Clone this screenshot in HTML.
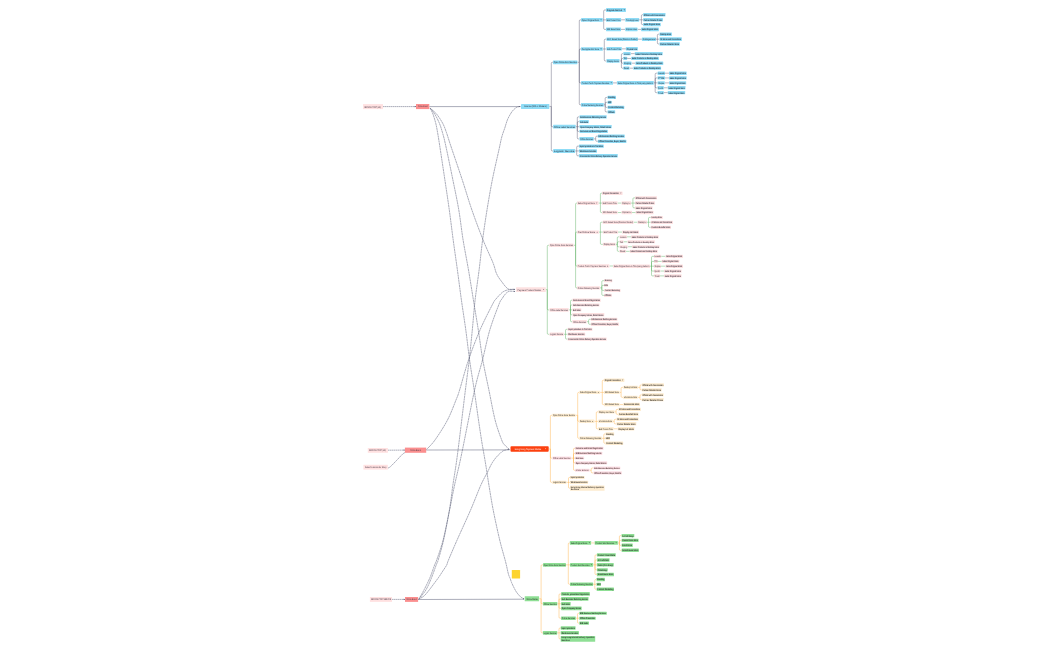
<!DOCTYPE html>
<html><head><meta charset="utf-8"><title>Mind Map</title>
<style>html,body{margin:0;padding:0;background:#fff;width:1050px;height:650px;overflow:hidden}svg{display:block;will-change:transform}</style>
</head><body>
<svg width="1050" height="650" viewBox="0 0 1050 650">
<g fill="none" stroke-width="0.55" stroke-linecap="butt" stroke-opacity="0.68">
<path d="M549.30 106.45H551.30" stroke="#3c3c5a"/>
<path d="M551.30 106.45V63.30Q551.30 62.30 552.30 62.30H553.00" stroke="#3c3c5a"/>
<path d="M551.30 106.45V125.70Q551.30 126.70 552.30 126.70H553.10" stroke="#3c3c5a"/>
<path d="M551.30 106.45V149.95Q551.30 150.95 552.30 150.95H553.10" stroke="#3c3c5a"/>
<path d="M577.40 62.30H579.30" stroke="#3c3c5a"/>
<path d="M579.30 62.30V20.90Q579.30 19.90 580.30 19.90H581.00" stroke="#3c3c5a"/>
<path d="M579.30 62.30V50.00Q579.30 49.00 580.30 49.00H581.00" stroke="#3c3c5a"/>
<path d="M579.30 62.30V81.90Q579.30 82.90 580.30 82.90H581.00" stroke="#3c3c5a"/>
<path d="M579.30 62.30V103.80Q579.30 104.80 580.30 104.80H581.00" stroke="#3c3c5a"/>
<path d="M602.80 19.90H603.70" stroke="#3c3c5a"/>
<path d="M603.70 19.90V11.00Q603.70 10.00 604.70 10.00H606.00" stroke="#3c3c5a"/>
<path d="M603.70 19.90H606.00" stroke="#3c3c5a"/>
<path d="M603.70 19.90V28.40Q603.70 29.40 604.70 29.40H606.00" stroke="#3c3c5a"/>
<path d="M621.10 19.80H625.20" stroke="#3c3c5a"/>
<path d="M639.20 19.80H641.40" stroke="#3c3c5a"/>
<path d="M641.40 19.80V15.70Q641.40 14.70 642.40 14.70H643.10" stroke="#3c3c5a"/>
<path d="M641.40 19.80H643.10" stroke="#3c3c5a"/>
<path d="M641.40 19.80V23.55Q641.40 24.55 642.40 24.55H643.10" stroke="#3c3c5a"/>
<path d="M621.00 29.40H625.20" stroke="#3c3c5a"/>
<path d="M637.60 29.40H641.10" stroke="#3c3c5a"/>
<path d="M602.80 49.00H604.30" stroke="#3c3c5a"/>
<path d="M604.30 49.00V40.20Q604.30 39.20 605.30 39.20H606.50" stroke="#3c3c5a"/>
<path d="M604.30 49.00H606.50" stroke="#3c3c5a"/>
<path d="M604.30 49.00V59.95Q604.30 60.95 605.30 60.95H606.50" stroke="#3c3c5a"/>
<path d="M638.00 39.20H641.90" stroke="#3c3c5a"/>
<path d="M656.00 39.20H657.40" stroke="#3c3c5a"/>
<path d="M657.40 39.20V35.20Q657.40 34.20 658.40 34.20H659.50" stroke="#3c3c5a"/>
<path d="M657.40 39.20H659.50" stroke="#3c3c5a"/>
<path d="M657.40 39.20V42.95Q657.40 43.95 658.40 43.95H659.50" stroke="#3c3c5a"/>
<path d="M621.90 48.85H625.90" stroke="#3c3c5a"/>
<path d="M619.50 60.95H621.40" stroke="#3c3c5a"/>
<path d="M621.40 60.95V54.65Q621.40 53.65 622.40 53.65H623.30" stroke="#3c3c5a"/>
<path d="M621.40 60.95V59.45Q621.40 58.45 622.40 58.45H623.30" stroke="#3c3c5a"/>
<path d="M621.40 60.95V62.20Q621.40 63.20 622.40 63.20H623.30" stroke="#3c3c5a"/>
<path d="M621.40 60.95V67.20Q621.40 68.20 622.40 68.20H623.30" stroke="#3c3c5a"/>
<path d="M630.70 53.65H634.80" stroke="#3c3c5a"/>
<path d="M627.10 58.45H631.20" stroke="#3c3c5a"/>
<path d="M631.60 63.20H635.40" stroke="#3c3c5a"/>
<path d="M629.50 68.20H633.30" stroke="#3c3c5a"/>
<path d="M613.00 82.90H617.00" stroke="#3c3c5a"/>
<path d="M653.80 82.85H655.20" stroke="#3c3c5a"/>
<path d="M655.20 82.85V74.20Q655.20 73.20 656.20 73.20H657.60" stroke="#3c3c5a"/>
<path d="M655.20 82.85V78.95Q655.20 77.95 656.20 77.95H657.60" stroke="#3c3c5a"/>
<path d="M655.20 82.85H657.60" stroke="#3c3c5a"/>
<path d="M655.20 82.85V86.80Q655.20 87.80 656.20 87.80H657.60" stroke="#3c3c5a"/>
<path d="M655.20 82.85V91.65Q655.20 92.65 656.20 92.65H657.60" stroke="#3c3c5a"/>
<path d="M665.00 73.20H669.00" stroke="#3c3c5a"/>
<path d="M665.00 77.95H669.00" stroke="#3c3c5a"/>
<path d="M664.80 82.90H669.00" stroke="#3c3c5a"/>
<path d="M663.80 87.80H667.80" stroke="#3c3c5a"/>
<path d="M663.80 92.65H667.80" stroke="#3c3c5a"/>
<path d="M603.80 104.80H605.20" stroke="#3c3c5a"/>
<path d="M605.20 104.80V98.45Q605.20 97.45 606.20 97.45H607.60" stroke="#3c3c5a"/>
<path d="M605.20 104.80V103.35Q605.20 102.35 606.20 102.35H607.60" stroke="#3c3c5a"/>
<path d="M605.20 104.80V106.35Q605.20 107.35 606.20 107.35H607.60" stroke="#3c3c5a"/>
<path d="M605.20 104.80V110.90Q605.20 111.90 606.20 111.90H607.60" stroke="#3c3c5a"/>
<path d="M575.70 126.70H577.30" stroke="#3c3c5a"/>
<path d="M577.30 126.70V117.90Q577.30 116.90 578.30 116.90H579.50" stroke="#3c3c5a"/>
<path d="M577.30 126.70V122.65Q577.30 121.65 578.30 121.65H579.50" stroke="#3c3c5a"/>
<path d="M577.30 126.70H579.50" stroke="#3c3c5a"/>
<path d="M577.30 126.70V130.40Q577.30 131.40 578.30 131.40H579.50" stroke="#3c3c5a"/>
<path d="M577.30 126.70V137.90Q577.30 138.90 578.30 138.90H579.50" stroke="#3c3c5a"/>
<path d="M593.80 138.90H595.70" stroke="#3c3c5a"/>
<path d="M595.70 138.90V137.20Q595.70 136.20 596.70 136.20H597.80" stroke="#3c3c5a"/>
<path d="M595.70 138.90V140.30Q595.70 141.30 596.70 141.30H597.80" stroke="#3c3c5a"/>
<path d="M575.20 150.95H576.70" stroke="#3c3c5a"/>
<path d="M576.70 150.95V147.15Q576.70 146.15 577.70 146.15H578.90" stroke="#3c3c5a"/>
<path d="M576.70 150.95H578.90" stroke="#3c3c5a"/>
<path d="M576.70 150.95V154.75Q576.70 155.75 577.70 155.75H578.90" stroke="#3c3c5a"/>
<path d="M545.80 289.60H547.30" stroke="#3ca041"/>
<path d="M547.30 289.60V246.30Q547.30 245.30 548.30 245.30H549.30" stroke="#3ca041"/>
<path d="M547.30 289.60V308.90Q547.30 309.90 548.30 309.90H549.50" stroke="#3ca041"/>
<path d="M547.30 289.60V333.30Q547.30 334.30 548.30 334.30H549.50" stroke="#3ca041"/>
<path d="M573.60 245.30H575.60" stroke="#3ca041"/>
<path d="M575.60 245.30V204.10Q575.60 203.10 576.60 203.10H577.10" stroke="#3ca041"/>
<path d="M575.60 245.30V233.10Q575.60 232.10 576.60 232.10H577.10" stroke="#3ca041"/>
<path d="M575.60 245.30V265.00Q575.60 266.00 576.60 266.00H577.10" stroke="#3ca041"/>
<path d="M575.60 245.30V286.90Q575.60 287.90 576.60 287.90H577.10" stroke="#3ca041"/>
<path d="M598.50 203.10H600.40" stroke="#3ca041"/>
<path d="M600.40 203.10V194.20Q600.40 193.20 601.40 193.20H602.10" stroke="#3ca041"/>
<path d="M600.40 203.10H602.10" stroke="#3ca041"/>
<path d="M600.40 203.10V211.55Q600.40 212.55 601.40 212.55H602.10" stroke="#3ca041"/>
<path d="M617.50 203.10H621.60" stroke="#3ca041"/>
<path d="M631.00 203.10H632.90" stroke="#3ca041"/>
<path d="M632.90 203.10V198.85Q632.90 197.85 633.90 197.85H635.00" stroke="#3ca041"/>
<path d="M632.90 203.10H635.00" stroke="#3ca041"/>
<path d="M632.90 203.10V206.85Q632.90 207.85 633.90 207.85H635.00" stroke="#3ca041"/>
<path d="M617.50 212.55H621.60" stroke="#3ca041"/>
<path d="M632.00 212.55H635.70" stroke="#3ca041"/>
<path d="M598.90 232.10H600.40" stroke="#3ca041"/>
<path d="M600.40 232.10V223.25Q600.40 222.25 601.40 222.25H602.70" stroke="#3ca041"/>
<path d="M600.40 232.10H602.90" stroke="#3ca041"/>
<path d="M600.40 232.10V243.35Q600.40 244.35 601.40 244.35H602.90" stroke="#3ca041"/>
<path d="M633.60 222.25H637.50" stroke="#3ca041"/>
<path d="M647.00 222.25H648.50" stroke="#3ca041"/>
<path d="M648.50 222.25V218.40Q648.50 217.40 649.50 217.40H650.80" stroke="#3ca041"/>
<path d="M648.50 222.25H650.80" stroke="#3ca041"/>
<path d="M648.50 222.25V226.30Q648.50 227.30 649.50 227.30H650.80" stroke="#3ca041"/>
<path d="M618.00 232.10H622.20" stroke="#3ca041"/>
<path d="M615.60 244.35H617.30" stroke="#3ca041"/>
<path d="M617.30 244.35V237.85Q617.30 236.85 618.30 236.85H619.50" stroke="#3ca041"/>
<path d="M617.30 244.35V242.80Q617.30 241.80 618.30 241.80H619.50" stroke="#3ca041"/>
<path d="M617.30 244.35V245.75Q617.30 246.75 618.30 246.75H619.50" stroke="#3ca041"/>
<path d="M617.30 244.35V250.35Q617.30 251.35 618.30 251.35H619.50" stroke="#3ca041"/>
<path d="M627.00 236.85H631.00" stroke="#3ca041"/>
<path d="M623.50 241.80H627.50" stroke="#3ca041"/>
<path d="M627.70 246.75H632.00" stroke="#3ca041"/>
<path d="M625.80 251.35H629.80" stroke="#3ca041"/>
<path d="M609.40 266.00H613.00" stroke="#3ca041"/>
<path d="M650.00 266.20H651.50" stroke="#3ca041"/>
<path d="M651.50 266.20V257.35Q651.50 256.35 652.50 256.35H654.00" stroke="#3ca041"/>
<path d="M651.50 266.20V262.40Q651.50 261.40 652.50 261.40H654.00" stroke="#3ca041"/>
<path d="M651.50 266.20H654.00" stroke="#3ca041"/>
<path d="M651.50 266.20V270.05Q651.50 271.05 652.50 271.05H654.00" stroke="#3ca041"/>
<path d="M651.50 266.20V274.90Q651.50 275.90 652.50 275.90H654.00" stroke="#3ca041"/>
<path d="M661.20 256.35H665.50" stroke="#3ca041"/>
<path d="M657.80 261.40H661.80" stroke="#3ca041"/>
<path d="M661.00 266.20H665.50" stroke="#3ca041"/>
<path d="M660.30 271.05H664.10" stroke="#3ca041"/>
<path d="M659.90 275.90H664.10" stroke="#3ca041"/>
<path d="M600.00 287.90H601.80" stroke="#3ca041"/>
<path d="M601.80 287.90V281.70Q601.80 280.70 602.80 280.70H604.00" stroke="#3ca041"/>
<path d="M601.80 287.90V286.35Q601.80 285.35 602.80 285.35H604.00" stroke="#3ca041"/>
<path d="M601.80 287.90V289.40Q601.80 290.40 602.80 290.40H604.00" stroke="#3ca041"/>
<path d="M601.80 287.90V294.35Q601.80 295.35 602.80 295.35H604.00" stroke="#3ca041"/>
<path d="M568.60 309.90H570.50" stroke="#3ca041"/>
<path d="M570.50 309.90V301.25Q570.50 300.25 571.50 300.25H572.40" stroke="#3ca041"/>
<path d="M570.50 309.90V306.00Q570.50 305.00 571.50 305.00H572.40" stroke="#3ca041"/>
<path d="M570.50 309.90H572.40" stroke="#3ca041"/>
<path d="M570.50 309.90V313.75Q570.50 314.75 571.50 314.75H572.40" stroke="#3ca041"/>
<path d="M570.50 309.90V320.70Q570.50 321.70 571.50 321.70H572.40" stroke="#3ca041"/>
<path d="M586.70 321.70H588.60" stroke="#3ca041"/>
<path d="M588.60 321.70V320.30Q588.60 319.30 589.60 319.30H590.80" stroke="#3ca041"/>
<path d="M588.60 321.70V323.30Q588.60 324.30 589.60 324.30H590.80" stroke="#3ca041"/>
<path d="M563.80 334.30H565.50" stroke="#3ca041"/>
<path d="M565.50 334.30V330.35Q565.50 329.35 566.50 329.35H567.60" stroke="#3ca041"/>
<path d="M565.50 334.30H567.60" stroke="#3ca041"/>
<path d="M565.50 334.30V338.05Q565.50 339.05 566.50 339.05H567.60" stroke="#3ca041"/>
<path d="M548.70 448.95H550.40" stroke="#ffa424"/>
<path d="M550.40 448.95V416.30Q550.40 415.30 551.40 415.30H552.20" stroke="#ffa424"/>
<path d="M550.40 448.95V457.15Q550.40 458.15 551.40 458.15H552.30" stroke="#ffa424"/>
<path d="M550.40 448.95V481.35Q550.40 482.35 551.40 482.35H552.30" stroke="#ffa424"/>
<path d="M575.50 415.30H577.70" stroke="#ffa424"/>
<path d="M577.70 415.30V393.40Q577.70 392.40 578.70 392.40H579.20" stroke="#ffa424"/>
<path d="M577.70 415.30V420.35Q577.70 421.35 578.70 421.35H579.20" stroke="#ffa424"/>
<path d="M577.70 415.30V437.30Q577.70 438.30 578.70 438.30H579.20" stroke="#ffa424"/>
<path d="M600.10 392.40H602.30" stroke="#ffa424"/>
<path d="M602.30 392.40V381.20Q602.30 380.20 603.30 380.20H604.00" stroke="#ffa424"/>
<path d="M602.30 392.40H604.00" stroke="#ffa424"/>
<path d="M602.30 392.40V403.60Q602.30 404.60 603.30 404.60H604.00" stroke="#ffa424"/>
<path d="M619.60 392.40H621.10" stroke="#ffa424"/>
<path d="M621.10 392.40V388.35Q621.10 387.35 622.10 387.35H623.30" stroke="#ffa424"/>
<path d="M621.10 392.40V396.35Q621.10 397.35 622.10 397.35H623.30" stroke="#ffa424"/>
<path d="M638.00 387.35H640.00" stroke="#ffa424"/>
<path d="M640.00 387.35V385.90Q640.00 384.90 641.00 384.90H641.70" stroke="#ffa424"/>
<path d="M640.00 387.35V388.85Q640.00 389.85 641.00 389.85H641.70" stroke="#ffa424"/>
<path d="M637.70 397.35H640.00" stroke="#ffa424"/>
<path d="M640.00 397.35V395.75Q640.00 394.75 641.00 394.75H641.70" stroke="#ffa424"/>
<path d="M640.00 397.35V398.70Q640.00 399.70 641.00 399.70H641.70" stroke="#ffa424"/>
<path d="M619.60 404.60H623.30" stroke="#ffa424"/>
<path d="M594.40 421.35H596.30" stroke="#ffa424"/>
<path d="M596.30 421.35V412.85Q596.30 411.85 597.30 411.85H598.20" stroke="#ffa424"/>
<path d="M596.30 421.35H598.20" stroke="#ffa424"/>
<path d="M596.30 421.35V427.80Q596.30 428.80 597.30 428.80H598.20" stroke="#ffa424"/>
<path d="M614.60 411.85H616.10" stroke="#ffa424"/>
<path d="M616.10 411.85V410.40Q616.10 409.40 617.10 409.40H618.30" stroke="#ffa424"/>
<path d="M616.10 411.85V413.30Q616.10 414.30 617.10 414.30H618.30" stroke="#ffa424"/>
<path d="M612.70 421.35H614.20" stroke="#ffa424"/>
<path d="M614.20 421.35V420.30Q614.20 419.30 615.20 419.30H616.50" stroke="#ffa424"/>
<path d="M614.20 421.35V422.85Q614.20 423.85 615.20 423.85H616.50" stroke="#ffa424"/>
<path d="M613.50 428.80H617.70" stroke="#ffa424"/>
<path d="M602.00 438.30H603.80" stroke="#ffa424"/>
<path d="M603.80 438.30V434.90Q603.80 433.90 604.80 433.90H605.50" stroke="#ffa424"/>
<path d="M603.80 438.30H605.50" stroke="#ffa424"/>
<path d="M603.80 438.30V442.30Q603.80 443.30 604.80 443.30H605.50" stroke="#ffa424"/>
<path d="M571.20 458.15H573.50" stroke="#ffa424"/>
<path d="M573.50 458.15V449.35Q573.50 448.35 574.50 448.35H575.00" stroke="#ffa424"/>
<path d="M573.50 458.15V454.35Q573.50 453.35 574.50 453.35H575.00" stroke="#ffa424"/>
<path d="M573.50 458.15H575.00" stroke="#ffa424"/>
<path d="M573.50 458.15V461.85Q573.50 462.85 574.50 462.85H575.00" stroke="#ffa424"/>
<path d="M573.50 458.15V469.30Q573.50 470.30 574.50 470.30H575.00" stroke="#ffa424"/>
<path d="M589.50 470.30H591.20" stroke="#ffa424"/>
<path d="M591.20 470.30V469.00Q591.20 468.00 592.20 468.00H593.50" stroke="#ffa424"/>
<path d="M591.20 470.30V471.85Q591.20 472.85 592.20 472.85H593.50" stroke="#ffa424"/>
<path d="M566.40 482.35H568.50" stroke="#ffa424"/>
<path d="M568.50 482.35V478.45Q568.50 477.45 569.50 477.45H570.00" stroke="#ffa424"/>
<path d="M568.50 482.35H570.00" stroke="#ffa424"/>
<path d="M568.50 482.35V487.15Q568.50 488.15 569.50 488.15H570.00" stroke="#ffa424"/>
<path d="M539.10 598.75H541.10" stroke="#ffa424"/>
<path d="M541.10 598.75V565.85Q541.10 564.85 542.10 564.85H543.00" stroke="#ffa424"/>
<path d="M541.10 598.75V602.80Q541.10 603.80 542.10 603.80H542.90" stroke="#ffa424"/>
<path d="M541.10 598.75V631.85Q541.10 632.85 542.10 632.85H542.90" stroke="#ffa424"/>
<path d="M566.00 564.85H568.30" stroke="#ffa424"/>
<path d="M568.30 564.85V543.95Q568.30 542.95 569.30 542.95H569.90" stroke="#ffa424"/>
<path d="M568.30 564.85H570.00" stroke="#ffa424"/>
<path d="M568.30 564.85V583.25Q568.30 584.25 569.30 584.25H570.00" stroke="#ffa424"/>
<path d="M591.10 542.95H594.70" stroke="#ffa424"/>
<path d="M617.90 542.95H619.40" stroke="#ffa424"/>
<path d="M619.40 542.95V536.65Q619.40 535.65 620.40 535.65H621.60" stroke="#ffa424"/>
<path d="M619.40 542.95V541.40Q619.40 540.40 620.40 540.40H621.60" stroke="#ffa424"/>
<path d="M619.40 542.95V544.30Q619.40 545.30 620.40 545.30H621.60" stroke="#ffa424"/>
<path d="M619.40 542.95V549.30Q619.40 550.30 620.40 550.30H621.60" stroke="#ffa424"/>
<path d="M593.10 564.85H595.00" stroke="#ffa424"/>
<path d="M595.00 564.85V555.90Q595.00 554.90 596.00 554.90H596.90" stroke="#ffa424"/>
<path d="M595.00 564.85V560.95Q595.00 559.95 596.00 559.95H596.90" stroke="#ffa424"/>
<path d="M595.00 564.85H596.90" stroke="#ffa424"/>
<path d="M595.00 564.85V568.85Q595.00 569.85 596.00 569.85H596.90" stroke="#ffa424"/>
<path d="M595.00 564.85V573.55Q595.00 574.55 596.00 574.55H596.90" stroke="#ffa424"/>
<path d="M593.10 584.25H594.80" stroke="#ffa424"/>
<path d="M594.80 584.25V580.50Q594.80 579.50 595.80 579.50H596.60" stroke="#ffa424"/>
<path d="M594.80 584.25H596.60" stroke="#ffa424"/>
<path d="M594.80 584.25V588.30Q594.80 589.30 595.80 589.30H596.60" stroke="#ffa424"/>
<path d="M557.30 603.80H559.00" stroke="#ffa424"/>
<path d="M559.00 603.80V594.95Q559.00 593.95 560.00 593.95H561.10" stroke="#ffa424"/>
<path d="M559.00 603.80V599.90Q559.00 598.90 560.00 598.90H561.10" stroke="#ffa424"/>
<path d="M559.00 603.80H561.10" stroke="#ffa424"/>
<path d="M559.00 603.80V607.40Q559.00 608.40 560.00 608.40H561.10" stroke="#ffa424"/>
<path d="M559.00 603.80V617.20Q559.00 618.20 560.00 618.20H561.10" stroke="#ffa424"/>
<path d="M575.80 618.20H577.50" stroke="#ffa424"/>
<path d="M577.50 618.20V614.30Q577.50 613.30 578.50 613.30H579.20" stroke="#ffa424"/>
<path d="M577.50 618.20H579.20" stroke="#ffa424"/>
<path d="M577.50 618.20V622.10Q577.50 623.10 578.50 623.10H579.20" stroke="#ffa424"/>
<path d="M557.20 632.85H559.00" stroke="#ffa424"/>
<path d="M559.00 632.85V629.00Q559.00 628.00 560.00 628.00H560.70" stroke="#ffa424"/>
<path d="M559.00 632.85H560.70" stroke="#ffa424"/>
<path d="M559.00 632.85V637.95Q559.00 638.95 560.00 638.95H560.70" stroke="#ffa424"/>
</g>
<g fill="none" stroke="#575a74" stroke-width="0.5">
<path d="M430.20 108.20C430.67 109.20 432.07 111.65 433.00 114.20C433.93 116.75 435.03 120.42 435.80 123.50C436.57 126.58 436.97 129.12 437.60 132.70C438.23 136.28 438.38 137.12 439.60 145.00C440.82 152.88 443.28 169.17 444.90 180.00C446.52 190.83 447.92 200.00 449.30 210.00C450.68 220.00 451.85 230.00 453.20 240.00C454.55 250.00 456.03 260.00 457.40 270.00C458.77 280.00 460.00 290.00 461.40 300.00C462.80 310.00 464.43 320.00 465.80 330.00C467.17 340.00 468.20 350.00 469.60 360.00C471.00 370.00 472.72 380.00 474.20 390.00C475.68 400.00 477.28 411.67 478.50 420.00C479.72 428.33 480.72 435.02 481.50 440.00C482.28 444.98 482.63 446.62 483.20 449.90C483.77 453.18 484.28 456.02 484.90 459.70C485.52 463.38 486.23 467.78 486.90 472.00C487.57 476.22 487.85 478.67 488.90 485.00C489.95 491.33 491.40 500.83 493.20 510.00C495.00 519.17 497.65 531.42 499.70 540.00C501.75 548.58 504.05 555.83 505.50 561.50C506.95 567.17 507.63 571.20 508.40 574.00C509.17 576.80 509.57 576.87 510.10 578.30C510.63 579.73 511.02 581.17 511.60 582.60C512.18 584.03 512.88 585.47 513.60 586.90C514.32 588.33 515.08 589.90 515.90 591.20C516.72 592.50 517.63 593.68 518.50 594.70C519.37 595.72 520.27 596.65 521.10 597.30C521.93 597.95 523.10 598.38 523.50 598.60" stroke-dasharray="2.2 0.4"/>
<path d="M430.20 108.20C430.97 109.20 433.25 111.65 434.80 114.20C436.35 116.75 438.22 120.42 439.50 123.50C440.78 126.58 441.48 129.12 442.50 132.70C443.52 136.28 443.87 137.12 445.60 145.00C447.33 152.88 450.70 169.17 452.90 180.00C455.10 190.83 457.10 200.00 458.80 210.00C460.50 220.00 461.48 230.00 463.10 240.00C464.72 250.00 466.78 260.00 468.50 270.00C470.22 280.00 471.77 290.00 473.40 300.00C475.03 310.00 476.73 320.00 478.30 330.00C479.87 340.00 481.03 350.00 482.80 360.00C484.57 370.00 486.85 380.00 488.90 390.00C490.95 400.00 492.97 411.67 495.10 420.00C497.23 428.33 500.12 435.85 501.70 440.00C503.28 444.15 503.37 443.38 504.60 444.90C505.83 446.42 508.35 448.40 509.10 449.10" stroke-dasharray="2.2 0.4"/>
<path d="M430.20 108.20C431.28 109.20 434.60 111.65 436.70 114.20C438.80 116.75 441.17 120.42 442.80 123.50C444.43 126.58 445.22 129.12 446.50 132.70C447.78 136.28 447.87 137.12 450.50 145.00C453.13 152.88 458.73 169.17 462.30 180.00C465.87 190.83 468.43 200.00 471.90 210.00C475.37 220.00 479.62 231.28 483.10 240.00C486.58 248.72 490.67 256.97 492.80 262.30C494.93 267.63 494.98 269.57 495.90 272.00C496.82 274.43 497.32 275.27 498.30 276.90C499.28 278.53 500.57 280.15 501.80 281.80C503.03 283.45 504.55 285.57 505.70 286.80C506.85 288.03 507.73 288.78 508.70 289.20C509.67 289.62 510.55 289.28 511.50 289.30C512.45 289.32 513.92 289.30 514.40 289.30" stroke-dasharray="2.2 0.4"/>
<path d="M418.70 599.30C419.62 597.68 422.30 593.27 424.20 589.60C426.10 585.93 428.37 581.40 430.10 577.30C431.83 573.20 433.50 567.88 434.60 565.00C435.70 562.12 435.28 564.17 436.70 560.00C438.12 555.83 440.98 548.33 443.10 540.00C445.22 531.67 447.77 519.17 449.40 510.00C451.03 500.83 451.57 494.17 452.90 485.00C454.23 475.83 455.32 470.83 457.40 455.00C459.48 439.17 463.43 405.83 465.40 390.00C467.37 374.17 468.05 370.00 469.20 360.00C470.35 350.00 471.32 340.00 472.30 330.00C473.28 320.00 473.97 310.00 475.10 300.00C476.23 290.00 477.85 280.00 479.10 270.00C480.35 260.00 481.28 250.00 482.60 240.00C483.92 230.00 485.38 220.00 487.00 210.00C488.62 200.00 490.32 190.00 492.30 180.00C494.28 170.00 497.32 157.18 498.90 150.00C500.48 142.82 500.82 140.57 501.80 136.90C502.78 133.23 504.08 130.20 504.80 128.00C505.52 125.80 505.63 125.13 506.10 123.70C506.57 122.27 506.98 120.83 507.60 119.40C508.22 117.97 508.97 116.53 509.80 115.10C510.63 113.67 511.67 111.95 512.60 110.80C513.53 109.65 514.57 108.85 515.40 108.20C516.23 107.55 516.90 107.18 517.60 106.90C518.30 106.62 519.27 106.57 519.60 106.50" stroke-dasharray="2.2 0.4"/>
<path d="M418.70 599.30C419.93 597.68 423.93 593.27 426.10 589.60C428.27 585.93 430.02 581.40 431.70 577.30C433.38 573.20 435.12 567.88 436.20 565.00C437.28 562.12 436.97 564.17 438.20 560.00C439.43 555.83 441.70 548.33 443.60 540.00C445.50 531.67 447.77 519.17 449.60 510.00C451.43 500.83 452.63 494.17 454.60 485.00C456.57 475.83 458.07 470.83 461.40 455.00C464.73 439.17 471.08 405.83 474.60 390.00C478.12 374.17 479.97 370.00 482.50 360.00C485.03 350.00 487.03 339.33 489.80 330.00C492.57 320.67 497.10 309.15 499.10 304.00C501.10 298.85 500.78 300.73 501.80 299.10C502.82 297.47 504.13 295.43 505.20 294.20C506.27 292.97 507.28 292.20 508.20 291.70C509.12 291.20 509.67 291.25 510.70 291.20C511.73 291.15 513.78 291.37 514.40 291.40" stroke-dasharray="2.2 0.4"/>
<path d="M426.50 449.50C427.92 447.92 431.50 444.92 435.00 440.00C438.50 435.08 444.00 426.67 447.50 420.00C451.00 413.33 453.98 405.00 456.00 400.00C458.02 395.00 457.52 396.67 459.60 390.00C461.68 383.33 465.10 370.00 468.50 360.00C471.90 350.00 475.97 339.33 480.00 330.00C484.03 320.67 490.05 309.15 492.70 304.00C495.35 298.85 494.63 300.73 495.90 299.10C497.17 297.47 499.07 295.43 500.30 294.20C501.53 292.97 502.23 292.37 503.30 291.70C504.37 291.03 505.55 290.55 506.70 290.20C507.85 289.85 508.92 289.72 510.20 289.60C511.48 289.48 513.70 289.52 514.40 289.50" stroke-dasharray="2.2 0.4"/>
<path d="M418.70 599.30C419.62 598.72 422.40 597.42 424.20 595.80C426.00 594.18 427.85 591.65 429.50 589.60C431.15 587.55 432.57 585.55 434.10 583.50C435.63 581.45 437.27 579.35 438.70 577.30C440.13 575.25 441.37 573.25 442.70 571.20C444.03 569.15 445.73 566.87 446.70 565.00C447.67 563.13 446.77 564.17 448.50 560.00C450.23 555.83 453.42 548.33 457.10 540.00C460.78 531.67 466.63 519.17 470.60 510.00C474.57 500.83 478.07 491.33 480.90 485.00C483.73 478.67 486.10 474.98 487.60 472.00C489.10 469.02 489.07 468.73 489.90 467.10C490.73 465.47 491.53 463.85 492.60 462.20C493.67 460.55 495.12 458.60 496.30 457.20C497.48 455.80 498.55 454.87 499.70 453.80C500.85 452.73 501.63 451.57 503.20 450.80C504.77 450.03 508.12 449.47 509.10 449.20" stroke-dasharray="2.2 0.4"/>
<path d="M388.00 468.00C388.42 467.77 389.08 467.85 390.50 466.60C391.92 465.35 394.50 462.57 396.50 460.50C398.50 458.43 401.08 455.52 402.50 454.20C403.92 452.88 404.58 452.87 405.00 452.60" stroke-dasharray="2.2 0.4"/>
<path d="M383 106.6L416 106.6" stroke-dasharray="1.6 0.4"/>
<path d="M429.3 106.6L520.5 106.6" stroke-dasharray="none"/>
<path d="M387.9 450.2L404.9 450.1" stroke-dasharray="1.6 0.4"/>
<path d="M426.2 450.0L509.5 449.9" stroke-dasharray="none"/>
<path d="M392 599.4L405 599.4" stroke-dasharray="1.6 0.4"/>
<path d="M418.1 599.5L524 599.2" stroke-dasharray="none"/>
</g>
<g fill="#3a3d5b"><path d="M414.70 106.00L416.00 106.60L414.70 107.20Z"/><path d="M403.60 449.50L404.90 450.10L403.60 450.70Z"/><path d="M403.70 598.80L405.00 599.40L403.70 600.00Z"/><path d="M519.30 105.90L520.60 106.50L519.30 107.10Z"/><path d="M513.90 288.75L515.20 289.35L513.90 289.95Z"/><path d="M513.90 290.80L515.20 291.40L513.90 292.00Z"/><path d="M508.50 448.70L509.80 449.30L508.50 449.90Z"/><path d="M523.00 598.20L524.30 598.80L523.00 599.40Z"/></g>
<rect x="511.8" y="569.9" width="8.3" height="8.7" rx="0.6" fill="#fdd42f"/>
<g font-family="Liberation Sans, sans-serif" style="text-rendering:geometricPrecision" opacity="0.995">
<rect x="521.00" y="104.00" width="28.30" height="4.90" rx="0.4" fill="#8fdcf6"/>
<text transform="translate(524.10 107.39) scale(0.1)" font-size="25.0" font-weight="normal" textLength="226.0" lengthAdjust="spacingAndGlyphs" fill="#1c2838">Internet (Wifi or Modem)</text>
<rect x="553.00" y="60.40" width="24.40" height="3.80" rx="0.4" fill="#8fdcf6"/>
<text transform="translate(553.75 63.24) scale(0.1)" font-size="25.0" font-weight="normal" textLength="229.0" lengthAdjust="spacingAndGlyphs" fill="#1c2838">Open Online Acct Services</text>
<rect x="581.00" y="18.00" width="21.80" height="3.80" rx="0.4" fill="#8fdcf6"/>
<path d="M600.45 19.50h1.2l-0.6 0.8z" fill="#1c2838"/>
<text transform="translate(581.75 20.84) scale(0.1)" font-size="25.0" font-weight="normal" textLength="173.0" lengthAdjust="spacingAndGlyphs" fill="#1c2838">Open Original Acct</text>
<rect x="606.00" y="8.10" width="20.00" height="3.80" rx="0.4" fill="#8fdcf6"/>
<path d="M623.65 9.60h1.2l-0.6 0.8z" fill="#1c2838"/>
<text transform="translate(606.75 10.94) scale(0.1)" font-size="25.0" font-weight="bold" textLength="155.0" lengthAdjust="spacingAndGlyphs" fill="#1c2838">Original Acct Lot</text>
<rect x="606.00" y="17.90" width="15.10" height="3.80" rx="0.4" fill="#8fdcf6"/>
<text transform="translate(606.75 20.74) scale(0.1)" font-size="25.0" font-weight="normal" textLength="136.0" lengthAdjust="spacingAndGlyphs" fill="#1c2838">Bulk Product Price</text>
<rect x="625.20" y="17.90" width="14.00" height="3.80" rx="0.4" fill="#8fdcf6"/>
<text transform="translate(625.95 20.74) scale(0.1)" font-size="25.0" font-weight="normal" textLength="125.0" lengthAdjust="spacingAndGlyphs" fill="#1c2838">Price Apply Level</text>
<rect x="643.10" y="13.00" width="22.40" height="3.40" rx="0.4" fill="#8fdcf6"/>
<text transform="translate(643.85 15.59) scale(0.1)" font-size="25.0" font-weight="bold" textLength="209.0" lengthAdjust="spacingAndGlyphs" fill="#1c2838">Official with Commission</text>
<rect x="643.10" y="18.10" width="19.90" height="3.30" rx="0.4" fill="#8fdcf6"/>
<text transform="translate(643.85 20.62) scale(0.1)" font-size="25.0" font-weight="bold" textLength="184.0" lengthAdjust="spacingAndGlyphs" fill="#1c2838">Partner Retailer Prices</text>
<rect x="643.10" y="22.90" width="17.70" height="3.30" rx="0.4" fill="#8fdcf6"/>
<text transform="translate(643.85 25.42) scale(0.1)" font-size="25.0" font-weight="bold" textLength="162.0" lengthAdjust="spacingAndGlyphs" fill="#1c2838">Sales Original Store</text>
<rect x="606.00" y="27.60" width="15.00" height="3.60" rx="0.4" fill="#8fdcf6"/>
<text transform="translate(606.75 30.34) scale(0.1)" font-size="25.0" font-weight="normal" textLength="135.0" lengthAdjust="spacingAndGlyphs" fill="#1c2838">SSS Stated Store</text>
<rect x="625.20" y="27.60" width="12.40" height="3.60" rx="0.4" fill="#8fdcf6"/>
<text transform="translate(625.95 30.34) scale(0.1)" font-size="25.0" font-weight="normal" textLength="109.0" lengthAdjust="spacingAndGlyphs" fill="#1c2838">Shipment Lines</text>
<rect x="641.10" y="27.60" width="17.80" height="3.60" rx="0.4" fill="#8fdcf6"/>
<text transform="translate(641.85 30.34) scale(0.1)" font-size="25.0" font-weight="bold" textLength="163.0" lengthAdjust="spacingAndGlyphs" fill="#1c2838">Sales Original Store</text>
<rect x="581.00" y="47.20" width="21.80" height="3.60" rx="0.4" fill="#8fdcf6"/>
<path d="M600.45 48.60h1.2l-0.6 0.8z" fill="#1c2838"/>
<text transform="translate(581.75 49.94) scale(0.1)" font-size="25.0" font-weight="normal" textLength="173.0" lengthAdjust="spacingAndGlyphs" fill="#1c2838">Get Apple Acct Store</text>
<rect x="606.50" y="37.40" width="31.50" height="3.60" rx="0.4" fill="#8fdcf6"/>
<text transform="translate(607.25 40.14) scale(0.1)" font-size="25.0" font-weight="normal" textLength="300.0" lengthAdjust="spacingAndGlyphs" fill="#1c2838">BCC Stated Store (Direction Guided)</text>
<rect x="641.90" y="37.40" width="14.10" height="3.60" rx="0.4" fill="#8fdcf6"/>
<text transform="translate(642.65 40.14) scale(0.1)" font-size="25.0" font-weight="normal" textLength="126.0" lengthAdjust="spacingAndGlyphs" fill="#1c2838">Challenges Level</text>
<rect x="659.50" y="32.40" width="12.40" height="3.60" rx="0.4" fill="#8fdcf6"/>
<text transform="translate(660.25 35.14) scale(0.1)" font-size="25.0" font-weight="bold" textLength="109.0" lengthAdjust="spacingAndGlyphs" fill="#1c2838">Desktop Store</text>
<rect x="659.50" y="37.30" width="22.40" height="3.70" rx="0.4" fill="#8fdcf6"/>
<text transform="translate(660.25 40.09) scale(0.1)" font-size="25.0" font-weight="bold" textLength="209.0" lengthAdjust="spacingAndGlyphs" fill="#1c2838">All Stores and Connections</text>
<rect x="659.50" y="42.20" width="20.30" height="3.50" rx="0.4" fill="#8fdcf6"/>
<text transform="translate(660.25 44.87) scale(0.1)" font-size="25.0" font-weight="bold" textLength="188.0" lengthAdjust="spacingAndGlyphs" fill="#1c2838">Partner Retailer Store</text>
<rect x="606.50" y="47.10" width="15.40" height="3.50" rx="0.4" fill="#8fdcf6"/>
<text transform="translate(607.25 49.77) scale(0.1)" font-size="25.0" font-weight="normal" textLength="139.0" lengthAdjust="spacingAndGlyphs" fill="#1c2838">Bulk Product Price</text>
<rect x="625.90" y="47.10" width="12.00" height="3.50" rx="0.4" fill="#8fdcf6"/>
<text transform="translate(626.65 49.77) scale(0.1)" font-size="25.0" font-weight="bold" textLength="105.0" lengthAdjust="spacingAndGlyphs" fill="#1c2838">Physical Line</text>
<rect x="606.50" y="59.10" width="13.00" height="3.70" rx="0.4" fill="#8fdcf6"/>
<text transform="translate(607.25 61.89) scale(0.1)" font-size="25.0" font-weight="normal" textLength="115.0" lengthAdjust="spacingAndGlyphs" fill="#1c2838">Display Items</text>
<rect x="623.30" y="52.00" width="7.40" height="3.30" rx="0.4" fill="#8fdcf6"/>
<text transform="translate(623.89 54.52) scale(0.1)" font-size="25.0" font-weight="normal" textLength="62.2" lengthAdjust="spacingAndGlyphs" fill="#1c2838">Location</text>
<rect x="634.80" y="52.00" width="27.90" height="3.30" rx="0.4" fill="#8fdcf6"/>
<text transform="translate(635.55 54.52) scale(0.1)" font-size="25.0" font-weight="bold" textLength="264.0" lengthAdjust="spacingAndGlyphs" fill="#1c2838">Sales Products in Desktop Store</text>
<rect x="623.30" y="56.80" width="3.80" height="3.30" rx="0.4" fill="#8fdcf6"/>
<text transform="translate(623.60 59.32) scale(0.1)" font-size="25.0" font-weight="normal" textLength="31.9" lengthAdjust="spacingAndGlyphs" fill="#1c2838">Tab</text>
<rect x="631.20" y="56.80" width="27.70" height="3.30" rx="0.4" fill="#8fdcf6"/>
<text transform="translate(631.95 59.32) scale(0.1)" font-size="25.0" font-weight="bold" textLength="262.0" lengthAdjust="spacingAndGlyphs" fill="#1c2838">Sales Products on Desktop Store</text>
<rect x="623.30" y="61.50" width="8.30" height="3.40" rx="0.4" fill="#8fdcf6"/>
<text transform="translate(623.96 64.09) scale(0.1)" font-size="25.0" font-weight="normal" textLength="69.7" lengthAdjust="spacingAndGlyphs" fill="#1c2838">Shopping</text>
<rect x="635.40" y="61.50" width="27.90" height="3.40" rx="0.4" fill="#8fdcf6"/>
<text transform="translate(636.15 64.09) scale(0.1)" font-size="25.0" font-weight="bold" textLength="264.0" lengthAdjust="spacingAndGlyphs" fill="#1c2838">Sales Products in Desktop Store</text>
<rect x="623.30" y="66.60" width="6.20" height="3.20" rx="0.4" fill="#8fdcf6"/>
<text transform="translate(623.80 69.04) scale(0.1)" font-size="25.0" font-weight="normal" textLength="52.1" lengthAdjust="spacingAndGlyphs" fill="#1c2838">Detail</text>
<rect x="633.30" y="66.60" width="27.80" height="3.20" rx="0.4" fill="#8fdcf6"/>
<text transform="translate(634.05 69.04) scale(0.1)" font-size="25.0" font-weight="bold" textLength="263.0" lengthAdjust="spacingAndGlyphs" fill="#1c2838">Sales Products on Desktop Store</text>
<rect x="581.00" y="81.00" width="32.00" height="3.80" rx="0.4" fill="#8fdcf6"/>
<path d="M610.65 82.50h1.2l-0.6 0.8z" fill="#1c2838"/>
<text transform="translate(581.75 83.84) scale(0.1)" font-size="25.0" font-weight="normal" textLength="275.0" lengthAdjust="spacingAndGlyphs" fill="#1c2838">Product Purch Payment Services</text>
<rect x="617.00" y="81.00" width="36.80" height="3.70" rx="0.4" fill="#8fdcf6"/>
<text transform="translate(617.75 83.79) scale(0.1)" font-size="25.0" font-weight="normal" textLength="353.0" lengthAdjust="spacingAndGlyphs" fill="#1c2838">Sales Original Store in Third party platform</text>
<rect x="657.60" y="71.50" width="7.40" height="3.40" rx="0.4" fill="#8fdcf6"/>
<text transform="translate(658.19 74.09) scale(0.1)" font-size="25.0" font-weight="normal" textLength="62.2" lengthAdjust="spacingAndGlyphs" fill="#1c2838">Lazada</text>
<rect x="669.00" y="71.50" width="17.70" height="3.40" rx="0.4" fill="#8fdcf6"/>
<text transform="translate(669.75 74.09) scale(0.1)" font-size="25.0" font-weight="bold" textLength="162.0" lengthAdjust="spacingAndGlyphs" fill="#1c2838">Sales Original Store</text>
<rect x="657.60" y="76.30" width="7.40" height="3.30" rx="0.4" fill="#8fdcf6"/>
<text transform="translate(658.19 78.82) scale(0.1)" font-size="25.0" font-weight="normal" textLength="62.2" lengthAdjust="spacingAndGlyphs" fill="#1c2838">PYE</text>
<rect x="669.00" y="76.30" width="17.70" height="3.30" rx="0.4" fill="#8fdcf6"/>
<text transform="translate(669.75 78.82) scale(0.1)" font-size="25.0" font-weight="bold" textLength="162.0" lengthAdjust="spacingAndGlyphs" fill="#1c2838">Sales Original Store</text>
<rect x="657.60" y="81.20" width="7.20" height="3.40" rx="0.4" fill="#8fdcf6"/>
<text transform="translate(658.18 83.79) scale(0.1)" font-size="25.0" font-weight="normal" textLength="60.5" lengthAdjust="spacingAndGlyphs" fill="#1c2838">Shopee</text>
<rect x="669.00" y="81.20" width="17.20" height="3.40" rx="0.4" fill="#8fdcf6"/>
<text transform="translate(669.75 83.79) scale(0.1)" font-size="25.0" font-weight="bold" textLength="157.0" lengthAdjust="spacingAndGlyphs" fill="#1c2838">Sales Original Store</text>
<rect x="657.60" y="86.10" width="6.20" height="3.40" rx="0.4" fill="#8fdcf6"/>
<text transform="translate(658.10 88.69) scale(0.1)" font-size="25.0" font-weight="normal" textLength="52.1" lengthAdjust="spacingAndGlyphs" fill="#1c2838">Qoo10</text>
<rect x="667.80" y="86.10" width="17.70" height="3.40" rx="0.4" fill="#8fdcf6"/>
<text transform="translate(668.55 88.69) scale(0.1)" font-size="25.0" font-weight="bold" textLength="162.0" lengthAdjust="spacingAndGlyphs" fill="#1c2838">Sales Original Store</text>
<rect x="657.60" y="91.00" width="6.20" height="3.30" rx="0.4" fill="#8fdcf6"/>
<text transform="translate(658.10 93.52) scale(0.1)" font-size="25.0" font-weight="normal" textLength="52.1" lengthAdjust="spacingAndGlyphs" fill="#1c2838">Tmall</text>
<rect x="667.80" y="91.00" width="17.40" height="3.30" rx="0.4" fill="#8fdcf6"/>
<text transform="translate(668.55 93.52) scale(0.1)" font-size="25.0" font-weight="bold" textLength="159.0" lengthAdjust="spacingAndGlyphs" fill="#1c2838">Sales Original Store</text>
<rect x="581.00" y="102.90" width="22.80" height="3.80" rx="0.4" fill="#8fdcf6"/>
<text transform="translate(581.75 105.74) scale(0.1)" font-size="25.0" font-weight="normal" textLength="213.0" lengthAdjust="spacingAndGlyphs" fill="#1c2838">Online Marketing Services</text>
<rect x="607.60" y="95.80" width="8.40" height="3.30" rx="0.4" fill="#8fdcf6"/>
<text transform="translate(608.27 98.32) scale(0.1)" font-size="25.0" font-weight="bold" textLength="70.6" lengthAdjust="spacingAndGlyphs" fill="#1c2838">Branding</text>
<rect x="607.60" y="100.70" width="4.00" height="3.30" rx="0.4" fill="#8fdcf6"/>
<text transform="translate(607.92 103.22) scale(0.1)" font-size="25.0" font-weight="bold" textLength="33.6" lengthAdjust="spacingAndGlyphs" fill="#1c2838">SEM</text>
<rect x="607.60" y="105.70" width="16.70" height="3.30" rx="0.4" fill="#8fdcf6"/>
<text transform="translate(608.35 108.22) scale(0.1)" font-size="25.0" font-weight="bold" textLength="152.0" lengthAdjust="spacingAndGlyphs" fill="#1c2838">Content Marketing</text>
<rect x="607.60" y="110.20" width="7.60" height="3.40" rx="0.4" fill="#8fdcf6"/>
<text transform="translate(608.21 112.79) scale(0.1)" font-size="25.0" font-weight="bold" textLength="63.8" lengthAdjust="spacingAndGlyphs" fill="#1c2838">Affiliate</text>
<rect x="553.10" y="124.80" width="22.60" height="3.80" rx="0.4" fill="#8fdcf6"/>
<text transform="translate(553.85 127.64) scale(0.1)" font-size="25.0" font-weight="normal" textLength="211.0" lengthAdjust="spacingAndGlyphs" fill="#1c2838">Offline Label Services</text>
<rect x="579.50" y="115.20" width="27.20" height="3.40" rx="0.4" fill="#8fdcf6"/>
<text transform="translate(580.25 117.79) scale(0.1)" font-size="25.0" font-weight="bold" textLength="257.0" lengthAdjust="spacingAndGlyphs" fill="#1c2838">Bulk Business Marketing Service</text>
<rect x="579.50" y="120.00" width="9.40" height="3.30" rx="0.4" fill="#8fdcf6"/>
<text transform="translate(580.25 122.52) scale(0.1)" font-size="25.0" font-weight="bold" textLength="79.0" lengthAdjust="spacingAndGlyphs" fill="#1c2838">Bulk Sales</text>
<rect x="579.50" y="125.00" width="32.20" height="3.30" rx="0.4" fill="#8fdcf6"/>
<text transform="translate(580.25 127.52) scale(0.1)" font-size="25.0" font-weight="bold" textLength="307.0" lengthAdjust="spacingAndGlyphs" fill="#1c2838">Open Company Stores, Retail Stores</text>
<rect x="579.50" y="129.80" width="28.40" height="3.20" rx="0.4" fill="#8fdcf6"/>
<text transform="translate(580.25 132.24) scale(0.1)" font-size="25.0" font-weight="bold" textLength="269.0" lengthAdjust="spacingAndGlyphs" fill="#1c2838">Exclusive and Brand Registration</text>
<rect x="579.50" y="137.10" width="14.30" height="3.60" rx="0.4" fill="#8fdcf6"/>
<text transform="translate(580.25 139.84) scale(0.1)" font-size="25.0" font-weight="normal" textLength="128.0" lengthAdjust="spacingAndGlyphs" fill="#1c2838">Offline Services</text>
<rect x="597.80" y="134.60" width="27.00" height="3.20" rx="0.4" fill="#8fdcf6"/>
<text transform="translate(598.55 137.04) scale(0.1)" font-size="25.0" font-weight="bold" textLength="255.0" lengthAdjust="spacingAndGlyphs" fill="#1c2838">B2B Business Matching Services</text>
<rect x="597.80" y="139.70" width="28.60" height="3.20" rx="0.4" fill="#8fdcf6"/>
<text transform="translate(598.55 142.14) scale(0.1)" font-size="25.0" font-weight="bold" textLength="271.0" lengthAdjust="spacingAndGlyphs" fill="#1c2838">Offline Promotion, Buyer, Booths</text>
<rect x="553.10" y="149.00" width="22.10" height="3.90" rx="0.4" fill="#8fdcf6"/>
<text transform="translate(553.85 151.89) scale(0.1)" font-size="25.0" font-weight="normal" textLength="206.0" lengthAdjust="spacingAndGlyphs" fill="#1c2838">Logistic Service</text>
<rect x="578.90" y="144.50" width="24.90" height="3.30" rx="0.4" fill="#8fdcf6"/>
<text transform="translate(579.65 147.02) scale(0.1)" font-size="25.0" font-weight="bold" textLength="234.0" lengthAdjust="spacingAndGlyphs" fill="#1c2838">Import procedure to Trial Store</text>
<rect x="578.90" y="149.30" width="18.10" height="3.40" rx="0.4" fill="#8fdcf6"/>
<text transform="translate(579.65 151.89) scale(0.1)" font-size="25.0" font-weight="bold" textLength="166.0" lengthAdjust="spacingAndGlyphs" fill="#1c2838">Warehouse Services</text>
<rect x="578.90" y="154.10" width="38.90" height="3.30" rx="0.4" fill="#8fdcf6"/>
<text transform="translate(579.65 156.62) scale(0.1)" font-size="25.0" font-weight="bold" textLength="374.0" lengthAdjust="spacingAndGlyphs" fill="#1c2838">Cross-border Online Delivery Operation Service</text>
<rect x="516.00" y="287.20" width="29.80" height="4.80" rx="0.4" fill="#fde1e1"/>
<text transform="translate(517.50 290.54) scale(0.1)" font-size="25.0" font-weight="normal" textLength="235.0" lengthAdjust="spacingAndGlyphs" fill="#3e3440">Payment Product Market</text>
<path d="M543.00 289.20h1.2l-0.6 0.8z" fill="#3e3440"/>
<rect x="549.30" y="243.50" width="24.30" height="3.60" rx="0.4" fill="#fde1e1"/>
<text transform="translate(550.05 246.24) scale(0.1)" font-size="25.0" font-weight="normal" textLength="228.0" lengthAdjust="spacingAndGlyphs" fill="#3e3440">Open Online Store Services</text>
<rect x="577.10" y="201.20" width="21.40" height="3.80" rx="0.4" fill="#fde1e1"/>
<path d="M596.15 202.70h1.2l-0.6 0.8z" fill="#3e3440"/>
<text transform="translate(577.85 204.04) scale(0.1)" font-size="25.0" font-weight="normal" textLength="169.0" lengthAdjust="spacingAndGlyphs" fill="#3e3440">Sales Original Store</text>
<rect x="602.10" y="191.50" width="20.50" height="3.40" rx="0.4" fill="#fde1e1"/>
<path d="M620.25 192.80h1.2l-0.6 0.8z" fill="#3e3440"/>
<text transform="translate(602.85 194.09) scale(0.1)" font-size="25.0" font-weight="bold" textLength="160.0" lengthAdjust="spacingAndGlyphs" fill="#3e3440">Original Connection</text>
<rect x="602.10" y="201.20" width="15.40" height="3.80" rx="0.4" fill="#fde1e1"/>
<text transform="translate(602.85 204.04) scale(0.1)" font-size="25.0" font-weight="normal" textLength="139.0" lengthAdjust="spacingAndGlyphs" fill="#3e3440">Bulk Product Price</text>
<rect x="621.60" y="201.20" width="9.40" height="3.80" rx="0.4" fill="#fde1e1"/>
<text transform="translate(622.35 204.04) scale(0.1)" font-size="25.0" font-weight="normal" textLength="79.0" lengthAdjust="spacingAndGlyphs" fill="#3e3440">Display Lv</text>
<rect x="635.00" y="196.20" width="22.00" height="3.30" rx="0.4" fill="#fde1e1"/>
<text transform="translate(635.75 198.72) scale(0.1)" font-size="25.0" font-weight="bold" textLength="205.0" lengthAdjust="spacingAndGlyphs" fill="#3e3440">Official with Commission</text>
<rect x="635.00" y="201.20" width="20.00" height="3.50" rx="0.4" fill="#fde1e1"/>
<text transform="translate(635.75 203.87) scale(0.1)" font-size="25.0" font-weight="bold" textLength="185.0" lengthAdjust="spacingAndGlyphs" fill="#3e3440">Partner Retailer Prices</text>
<rect x="635.00" y="206.20" width="17.70" height="3.30" rx="0.4" fill="#fde1e1"/>
<text transform="translate(635.75 208.72) scale(0.1)" font-size="25.0" font-weight="bold" textLength="162.0" lengthAdjust="spacingAndGlyphs" fill="#3e3440">Sales Original Store</text>
<rect x="602.10" y="210.80" width="15.40" height="3.50" rx="0.4" fill="#fde1e1"/>
<text transform="translate(602.85 213.47) scale(0.1)" font-size="25.0" font-weight="normal" textLength="139.0" lengthAdjust="spacingAndGlyphs" fill="#3e3440">SSS Stated Store</text>
<rect x="621.60" y="210.80" width="10.40" height="3.50" rx="0.4" fill="#fde1e1"/>
<text transform="translate(622.35 213.47) scale(0.1)" font-size="25.0" font-weight="normal" textLength="89.0" lengthAdjust="spacingAndGlyphs" fill="#3e3440">Shipment Lv</text>
<rect x="635.70" y="210.80" width="17.80" height="3.50" rx="0.4" fill="#fde1e1"/>
<text transform="translate(636.45 213.47) scale(0.1)" font-size="25.0" font-weight="bold" textLength="163.0" lengthAdjust="spacingAndGlyphs" fill="#3e3440">Sales Original Store</text>
<rect x="577.10" y="230.40" width="21.80" height="3.40" rx="0.4" fill="#fde1e1"/>
<path d="M596.55 232.50h1.2l-0.6 -0.8z" fill="#3e3440"/>
<text transform="translate(577.85 232.99) scale(0.1)" font-size="25.0" font-weight="normal" textLength="173.0" lengthAdjust="spacingAndGlyphs" fill="#3e3440">Get Online Store</text>
<rect x="602.70" y="220.50" width="30.90" height="3.50" rx="0.4" fill="#fde1e1"/>
<text transform="translate(603.45 223.17) scale(0.1)" font-size="25.0" font-weight="normal" textLength="294.0" lengthAdjust="spacingAndGlyphs" fill="#3e3440">BCC Stated Store (Direction Guided)</text>
<rect x="637.50" y="220.50" width="9.50" height="3.50" rx="0.4" fill="#fde1e1"/>
<text transform="translate(638.25 223.17) scale(0.1)" font-size="25.0" font-weight="normal" textLength="80.0" lengthAdjust="spacingAndGlyphs" fill="#3e3440">Desktop Lv</text>
<rect x="650.80" y="215.90" width="12.00" height="3.00" rx="0.4" fill="#fde1e1"/>
<text transform="translate(651.55 218.19) scale(0.1)" font-size="22.5" font-weight="bold" textLength="105.0" lengthAdjust="spacingAndGlyphs" fill="#3e3440">Desktop Store</text>
<rect x="650.80" y="220.70" width="22.20" height="3.30" rx="0.4" fill="#fde1e1"/>
<text transform="translate(651.55 223.22) scale(0.1)" font-size="25.0" font-weight="bold" textLength="207.0" lengthAdjust="spacingAndGlyphs" fill="#3e3440">All Stores and Connections</text>
<rect x="650.80" y="225.70" width="20.20" height="3.20" rx="0.4" fill="#fde1e1"/>
<text transform="translate(651.55 228.14) scale(0.1)" font-size="25.0" font-weight="bold" textLength="187.0" lengthAdjust="spacingAndGlyphs" fill="#3e3440">Custom Bundle Store</text>
<rect x="602.90" y="230.40" width="15.10" height="3.40" rx="0.4" fill="#fde1e1"/>
<text transform="translate(603.65 232.99) scale(0.1)" font-size="25.0" font-weight="normal" textLength="136.0" lengthAdjust="spacingAndGlyphs" fill="#3e3440">Bulk Product Price</text>
<rect x="622.20" y="230.40" width="16.80" height="3.40" rx="0.4" fill="#fde1e1"/>
<text transform="translate(622.95 232.99) scale(0.1)" font-size="25.0" font-weight="bold" textLength="153.0" lengthAdjust="spacingAndGlyphs" fill="#3e3440">Display Lot Stock</text>
<rect x="602.90" y="242.70" width="12.70" height="3.30" rx="0.4" fill="#fde1e1"/>
<text transform="translate(603.65 245.22) scale(0.1)" font-size="25.0" font-weight="normal" textLength="112.0" lengthAdjust="spacingAndGlyphs" fill="#3e3440">Display Items</text>
<rect x="619.50" y="235.30" width="7.50" height="3.10" rx="0.4" fill="#fde1e1"/>
<text transform="translate(620.10 237.67) scale(0.1)" font-size="25.0" font-weight="normal" textLength="63.0" lengthAdjust="spacingAndGlyphs" fill="#3e3440">Location</text>
<rect x="631.00" y="235.30" width="27.80" height="3.10" rx="0.4" fill="#fde1e1"/>
<text transform="translate(631.75 237.67) scale(0.1)" font-size="25.0" font-weight="bold" textLength="263.0" lengthAdjust="spacingAndGlyphs" fill="#3e3440">Sales Products in Desktop Store</text>
<rect x="619.50" y="240.30" width="4.00" height="3.00" rx="0.4" fill="#fde1e1"/>
<text transform="translate(619.82 242.59) scale(0.1)" font-size="22.5" font-weight="normal" textLength="33.6" lengthAdjust="spacingAndGlyphs" fill="#3e3440">Tab</text>
<rect x="627.50" y="240.30" width="27.50" height="3.00" rx="0.4" fill="#fde1e1"/>
<text transform="translate(628.25 242.59) scale(0.1)" font-size="22.5" font-weight="bold" textLength="260.0" lengthAdjust="spacingAndGlyphs" fill="#3e3440">Sales Products on Desktop Store</text>
<rect x="619.50" y="245.20" width="8.20" height="3.10" rx="0.4" fill="#fde1e1"/>
<text transform="translate(620.16 247.57) scale(0.1)" font-size="25.0" font-weight="normal" textLength="68.9" lengthAdjust="spacingAndGlyphs" fill="#3e3440">Shopping</text>
<rect x="632.00" y="245.20" width="27.60" height="3.10" rx="0.4" fill="#fde1e1"/>
<text transform="translate(632.75 247.57) scale(0.1)" font-size="25.0" font-weight="bold" textLength="261.0" lengthAdjust="spacingAndGlyphs" fill="#3e3440">Sales Products in Desktop Store</text>
<rect x="619.50" y="249.80" width="6.30" height="3.10" rx="0.4" fill="#fde1e1"/>
<text transform="translate(620.00 252.17) scale(0.1)" font-size="25.0" font-weight="normal" textLength="52.9" lengthAdjust="spacingAndGlyphs" fill="#3e3440">Detail</text>
<rect x="629.80" y="249.80" width="27.90" height="3.10" rx="0.4" fill="#fde1e1"/>
<text transform="translate(630.55 252.17) scale(0.1)" font-size="25.0" font-weight="bold" textLength="264.0" lengthAdjust="spacingAndGlyphs" fill="#3e3440">Sales Products on Desktop Store</text>
<rect x="577.10" y="264.20" width="32.30" height="3.60" rx="0.4" fill="#fde1e1"/>
<path d="M607.05 266.40h1.2l-0.6 -0.8z" fill="#3e3440"/>
<text transform="translate(577.85 266.94) scale(0.1)" font-size="25.0" font-weight="normal" textLength="278.0" lengthAdjust="spacingAndGlyphs" fill="#3e3440">Product Purch Payment Services</text>
<rect x="613.00" y="264.50" width="37.00" height="3.40" rx="0.4" fill="#fde1e1"/>
<text transform="translate(613.75 267.09) scale(0.1)" font-size="25.0" font-weight="normal" textLength="355.0" lengthAdjust="spacingAndGlyphs" fill="#3e3440">Sales Original Store in Third party platform</text>
<rect x="654.00" y="254.70" width="7.20" height="3.30" rx="0.4" fill="#fde1e1"/>
<text transform="translate(654.58 257.22) scale(0.1)" font-size="25.0" font-weight="normal" textLength="60.5" lengthAdjust="spacingAndGlyphs" fill="#3e3440">Lazada</text>
<rect x="665.50" y="254.70" width="17.50" height="3.30" rx="0.4" fill="#fde1e1"/>
<text transform="translate(666.25 257.22) scale(0.1)" font-size="25.0" font-weight="bold" textLength="160.0" lengthAdjust="spacingAndGlyphs" fill="#3e3440">Sales Original Store</text>
<rect x="654.00" y="259.80" width="3.80" height="3.20" rx="0.4" fill="#fde1e1"/>
<text transform="translate(654.30 262.24) scale(0.1)" font-size="25.0" font-weight="normal" textLength="31.9" lengthAdjust="spacingAndGlyphs" fill="#3e3440">PYE</text>
<rect x="661.80" y="259.80" width="17.50" height="3.20" rx="0.4" fill="#fde1e1"/>
<text transform="translate(662.55 262.24) scale(0.1)" font-size="25.0" font-weight="bold" textLength="160.0" lengthAdjust="spacingAndGlyphs" fill="#3e3440">Sales Original Store</text>
<rect x="654.00" y="264.50" width="7.00" height="3.40" rx="0.4" fill="#fde1e1"/>
<text transform="translate(654.56 267.09) scale(0.1)" font-size="25.0" font-weight="normal" textLength="58.8" lengthAdjust="spacingAndGlyphs" fill="#3e3440">Shopee</text>
<rect x="665.50" y="264.50" width="17.50" height="3.40" rx="0.4" fill="#fde1e1"/>
<text transform="translate(666.25 267.09) scale(0.1)" font-size="25.0" font-weight="bold" textLength="160.0" lengthAdjust="spacingAndGlyphs" fill="#3e3440">Sales Original Store</text>
<rect x="654.00" y="269.40" width="6.30" height="3.30" rx="0.4" fill="#fde1e1"/>
<text transform="translate(654.50 271.92) scale(0.1)" font-size="25.0" font-weight="normal" textLength="52.9" lengthAdjust="spacingAndGlyphs" fill="#3e3440">Qoo10</text>
<rect x="664.10" y="269.40" width="17.50" height="3.30" rx="0.4" fill="#fde1e1"/>
<text transform="translate(664.85 271.92) scale(0.1)" font-size="25.0" font-weight="bold" textLength="160.0" lengthAdjust="spacingAndGlyphs" fill="#3e3440">Sales Original Store</text>
<rect x="654.00" y="274.20" width="5.90" height="3.40" rx="0.4" fill="#fde1e1"/>
<text transform="translate(654.47 276.79) scale(0.1)" font-size="25.0" font-weight="normal" textLength="49.6" lengthAdjust="spacingAndGlyphs" fill="#3e3440">Tmall</text>
<rect x="664.10" y="274.20" width="17.50" height="3.40" rx="0.4" fill="#fde1e1"/>
<text transform="translate(664.85 276.79) scale(0.1)" font-size="25.0" font-weight="bold" textLength="160.0" lengthAdjust="spacingAndGlyphs" fill="#3e3440">Sales Original Store</text>
<rect x="577.10" y="286.20" width="22.90" height="3.40" rx="0.4" fill="#fde1e1"/>
<text transform="translate(577.85 288.79) scale(0.1)" font-size="25.0" font-weight="normal" textLength="214.0" lengthAdjust="spacingAndGlyphs" fill="#3e3440">Online Marketing Services</text>
<rect x="604.00" y="279.20" width="8.40" height="3.00" rx="0.4" fill="#fde1e1"/>
<text transform="translate(604.67 281.49) scale(0.1)" font-size="22.5" font-weight="bold" textLength="70.6" lengthAdjust="spacingAndGlyphs" fill="#3e3440">Branding</text>
<rect x="604.00" y="283.90" width="4.20" height="2.90" rx="0.4" fill="#fde1e1"/>
<text transform="translate(604.34 286.12) scale(0.1)" font-size="21.8" font-weight="bold" textLength="35.3" lengthAdjust="spacingAndGlyphs" fill="#3e3440">SEM</text>
<rect x="604.00" y="288.90" width="16.60" height="3.00" rx="0.4" fill="#fde1e1"/>
<text transform="translate(604.75 291.19) scale(0.1)" font-size="22.5" font-weight="bold" textLength="151.0" lengthAdjust="spacingAndGlyphs" fill="#3e3440">Content Marketing</text>
<rect x="604.00" y="293.80" width="7.80" height="3.10" rx="0.4" fill="#fde1e1"/>
<text transform="translate(604.62 296.17) scale(0.1)" font-size="25.0" font-weight="bold" textLength="65.5" lengthAdjust="spacingAndGlyphs" fill="#3e3440">Affiliate</text>
<rect x="549.50" y="308.10" width="19.10" height="3.60" rx="0.4" fill="#fde1e1"/>
<text transform="translate(550.25 310.84) scale(0.1)" font-size="25.0" font-weight="normal" textLength="176.0" lengthAdjust="spacingAndGlyphs" fill="#3e3440">Offline Label Services</text>
<rect x="572.40" y="298.60" width="28.30" height="3.30" rx="0.4" fill="#fde1e1"/>
<text transform="translate(573.15 301.12) scale(0.1)" font-size="25.0" font-weight="bold" textLength="268.0" lengthAdjust="spacingAndGlyphs" fill="#3e3440">Exclusive and Brand Registration</text>
<rect x="572.40" y="303.40" width="27.10" height="3.20" rx="0.4" fill="#fde1e1"/>
<text transform="translate(573.15 305.84) scale(0.1)" font-size="25.0" font-weight="bold" textLength="256.0" lengthAdjust="spacingAndGlyphs" fill="#3e3440">Bulk Business Marketing Service</text>
<rect x="572.40" y="308.30" width="9.00" height="3.20" rx="0.4" fill="#fde1e1"/>
<text transform="translate(573.12 310.74) scale(0.1)" font-size="25.0" font-weight="bold" textLength="75.6" lengthAdjust="spacingAndGlyphs" fill="#3e3440">Bulk Sales</text>
<rect x="572.40" y="313.10" width="31.90" height="3.30" rx="0.4" fill="#fde1e1"/>
<text transform="translate(573.15 315.62) scale(0.1)" font-size="25.0" font-weight="bold" textLength="304.0" lengthAdjust="spacingAndGlyphs" fill="#3e3440">Open Company Stores, Retail Stores</text>
<rect x="572.40" y="320.00" width="14.30" height="3.40" rx="0.4" fill="#fde1e1"/>
<text transform="translate(573.15 322.59) scale(0.1)" font-size="25.0" font-weight="normal" textLength="128.0" lengthAdjust="spacingAndGlyphs" fill="#3e3440">Offline Services</text>
<rect x="590.80" y="317.70" width="26.60" height="3.20" rx="0.4" fill="#fde1e1"/>
<text transform="translate(591.55 320.14) scale(0.1)" font-size="25.0" font-weight="bold" textLength="251.0" lengthAdjust="spacingAndGlyphs" fill="#3e3440">B2B Business Matching Services</text>
<rect x="590.80" y="322.60" width="28.20" height="3.40" rx="0.4" fill="#fde1e1"/>
<text transform="translate(591.55 325.19) scale(0.1)" font-size="25.0" font-weight="bold" textLength="267.0" lengthAdjust="spacingAndGlyphs" fill="#3e3440">Offline Promotion, Buyer, Booths</text>
<rect x="549.50" y="332.60" width="14.30" height="3.40" rx="0.4" fill="#fde1e1"/>
<text transform="translate(550.25 335.19) scale(0.1)" font-size="25.0" font-weight="normal" textLength="128.0" lengthAdjust="spacingAndGlyphs" fill="#3e3440">Logistic Service</text>
<rect x="567.60" y="327.70" width="24.80" height="3.30" rx="0.4" fill="#fde1e1"/>
<text transform="translate(568.35 330.22) scale(0.1)" font-size="25.0" font-weight="bold" textLength="233.0" lengthAdjust="spacingAndGlyphs" fill="#3e3440">Import procedure to Trial Store</text>
<rect x="567.60" y="332.60" width="17.60" height="3.40" rx="0.4" fill="#fde1e1"/>
<text transform="translate(568.35 335.19) scale(0.1)" font-size="25.0" font-weight="bold" textLength="161.0" lengthAdjust="spacingAndGlyphs" fill="#3e3440">Warehouse Services</text>
<rect x="567.60" y="337.40" width="39.10" height="3.30" rx="0.4" fill="#fde1e1"/>
<text transform="translate(568.35 339.92) scale(0.1)" font-size="25.0" font-weight="bold" textLength="376.0" lengthAdjust="spacingAndGlyphs" fill="#3e3440">Cross-border Online Delivery Operation Service</text>
<rect x="510.50" y="446.20" width="38.20" height="5.50" rx="0.9" fill="#fc3f0e"/>
<text transform="translate(514.80 449.89) scale(0.1)" font-size="25.0" font-weight="normal" textLength="264.0" lengthAdjust="spacingAndGlyphs" fill="#ffffff">Hong Kong Payment Market</text>
<path d="M545.00 448.55h1.2l-0.6 0.8z" fill="#ffffff"/>
<rect x="552.20" y="413.70" width="23.30" height="3.20" rx="0.4" fill="#fdecd0"/>
<text transform="translate(552.95 416.14) scale(0.1)" font-size="25.0" font-weight="normal" textLength="218.0" lengthAdjust="spacingAndGlyphs" fill="#2e2a24">Open Online Store Service</text>
<rect x="579.20" y="390.70" width="20.90" height="3.40" rx="0.4" fill="#fdecd0"/>
<path d="M597.75 392.00h1.2l-0.6 0.8z" fill="#2e2a24"/>
<text transform="translate(579.95 393.29) scale(0.1)" font-size="25.0" font-weight="normal" textLength="164.0" lengthAdjust="spacingAndGlyphs" fill="#2e2a24">Sales Original Store</text>
<rect x="604.00" y="378.50" width="20.40" height="3.40" rx="0.4" fill="#fdecd0"/>
<path d="M622.05 379.80h1.2l-0.6 0.8z" fill="#2e2a24"/>
<text transform="translate(604.75 381.09) scale(0.1)" font-size="25.0" font-weight="bold" textLength="159.0" lengthAdjust="spacingAndGlyphs" fill="#2e2a24">Original Connection</text>
<rect x="604.00" y="390.70" width="15.60" height="3.40" rx="0.4" fill="#fdecd0"/>
<text transform="translate(604.75 393.29) scale(0.1)" font-size="25.0" font-weight="normal" textLength="141.0" lengthAdjust="spacingAndGlyphs" fill="#2e2a24">SSS Stated Store</text>
<rect x="623.30" y="385.70" width="14.70" height="3.30" rx="0.4" fill="#fdecd0"/>
<text transform="translate(624.05 388.22) scale(0.1)" font-size="25.0" font-weight="normal" textLength="132.0" lengthAdjust="spacingAndGlyphs" fill="#2e2a24">Desktop Ink Store</text>
<rect x="641.70" y="383.30" width="22.30" height="3.20" rx="0.4" fill="#fdecd0"/>
<text transform="translate(642.45 385.74) scale(0.1)" font-size="25.0" font-weight="bold" textLength="208.0" lengthAdjust="spacingAndGlyphs" fill="#2e2a24">Official with Commission</text>
<rect x="641.70" y="388.20" width="20.00" height="3.30" rx="0.4" fill="#fdecd0"/>
<text transform="translate(642.45 390.72) scale(0.1)" font-size="25.0" font-weight="bold" textLength="185.0" lengthAdjust="spacingAndGlyphs" fill="#2e2a24">Partner Retailer Store</text>
<rect x="623.30" y="395.70" width="14.40" height="3.30" rx="0.4" fill="#fdecd0"/>
<text transform="translate(624.05 398.22) scale(0.1)" font-size="25.0" font-weight="normal" textLength="129.0" lengthAdjust="spacingAndGlyphs" fill="#2e2a24">eCommerce Store</text>
<rect x="641.70" y="393.20" width="22.00" height="3.10" rx="0.4" fill="#fdecd0"/>
<text transform="translate(642.45 395.57) scale(0.1)" font-size="25.0" font-weight="bold" textLength="205.0" lengthAdjust="spacingAndGlyphs" fill="#2e2a24">Official with Commission</text>
<rect x="641.70" y="398.10" width="22.00" height="3.20" rx="0.4" fill="#fdecd0"/>
<text transform="translate(642.45 400.54) scale(0.1)" font-size="25.0" font-weight="bold" textLength="205.0" lengthAdjust="spacingAndGlyphs" fill="#2e2a24">Partner Retailer Prices</text>
<rect x="604.00" y="402.90" width="15.60" height="3.40" rx="0.4" fill="#fdecd0"/>
<text transform="translate(604.75 405.49) scale(0.1)" font-size="25.0" font-weight="normal" textLength="141.0" lengthAdjust="spacingAndGlyphs" fill="#2e2a24">SSS Stated Store</text>
<rect x="623.30" y="402.80" width="16.70" height="3.20" rx="0.4" fill="#fdecd0"/>
<text transform="translate(624.05 405.24) scale(0.1)" font-size="25.0" font-weight="bold" textLength="152.0" lengthAdjust="spacingAndGlyphs" fill="#2e2a24">Accessories Store</text>
<rect x="579.20" y="419.60" width="15.20" height="3.50" rx="0.4" fill="#fdecd0"/>
<path d="M592.05 421.75h1.2l-0.6 -0.8z" fill="#2e2a24"/>
<text transform="translate(579.95 422.27) scale(0.1)" font-size="25.0" font-weight="normal" textLength="107.0" lengthAdjust="spacingAndGlyphs" fill="#2e2a24">Desktop Store</text>
<rect x="598.20" y="410.20" width="16.40" height="3.30" rx="0.4" fill="#fdecd0"/>
<text transform="translate(598.95 412.72) scale(0.1)" font-size="25.0" font-weight="normal" textLength="149.0" lengthAdjust="spacingAndGlyphs" fill="#2e2a24">Display Lot Store</text>
<rect x="618.30" y="407.70" width="22.60" height="3.40" rx="0.4" fill="#fdecd0"/>
<text transform="translate(619.05 410.29) scale(0.1)" font-size="25.0" font-weight="bold" textLength="211.0" lengthAdjust="spacingAndGlyphs" fill="#2e2a24">All Stores and Connections</text>
<rect x="618.30" y="412.60" width="20.30" height="3.40" rx="0.4" fill="#fdecd0"/>
<text transform="translate(619.05 415.19) scale(0.1)" font-size="25.0" font-weight="bold" textLength="188.0" lengthAdjust="spacingAndGlyphs" fill="#2e2a24">Custom Bundled Store</text>
<rect x="598.20" y="419.60" width="14.50" height="3.50" rx="0.4" fill="#fdecd0"/>
<text transform="translate(598.95 422.27) scale(0.1)" font-size="25.0" font-weight="normal" textLength="130.0" lengthAdjust="spacingAndGlyphs" fill="#2e2a24">eCommerce Store</text>
<rect x="616.50" y="417.60" width="22.10" height="3.40" rx="0.4" fill="#fdecd0"/>
<text transform="translate(617.25 420.19) scale(0.1)" font-size="25.0" font-weight="bold" textLength="206.0" lengthAdjust="spacingAndGlyphs" fill="#2e2a24">All Stores and Connections</text>
<rect x="616.50" y="422.10" width="19.80" height="3.50" rx="0.4" fill="#fdecd0"/>
<text transform="translate(617.25 424.77) scale(0.1)" font-size="25.0" font-weight="bold" textLength="183.0" lengthAdjust="spacingAndGlyphs" fill="#2e2a24">Partner Retailer Store</text>
<rect x="598.20" y="427.10" width="15.30" height="3.40" rx="0.4" fill="#fdecd0"/>
<text transform="translate(598.95 429.69) scale(0.1)" font-size="25.0" font-weight="normal" textLength="138.0" lengthAdjust="spacingAndGlyphs" fill="#2e2a24">Bulk Product Price</text>
<rect x="617.70" y="427.10" width="16.70" height="3.40" rx="0.4" fill="#fdecd0"/>
<text transform="translate(618.45 429.69) scale(0.1)" font-size="25.0" font-weight="bold" textLength="152.0" lengthAdjust="spacingAndGlyphs" fill="#2e2a24">Display Lot Stock</text>
<rect x="579.20" y="436.60" width="22.80" height="3.40" rx="0.4" fill="#fdecd0"/>
<text transform="translate(579.95 439.19) scale(0.1)" font-size="25.0" font-weight="normal" textLength="213.0" lengthAdjust="spacingAndGlyphs" fill="#2e2a24">Online Marketing Services</text>
<rect x="605.50" y="432.30" width="8.70" height="3.20" rx="0.4" fill="#fdecd0"/>
<text transform="translate(606.20 434.74) scale(0.1)" font-size="25.0" font-weight="bold" textLength="73.1" lengthAdjust="spacingAndGlyphs" fill="#2e2a24">Branding</text>
<rect x="605.50" y="436.80" width="4.50" height="3.20" rx="0.4" fill="#fdecd0"/>
<text transform="translate(605.86 439.24) scale(0.1)" font-size="25.0" font-weight="bold" textLength="37.8" lengthAdjust="spacingAndGlyphs" fill="#2e2a24">SEM</text>
<rect x="605.50" y="441.60" width="17.70" height="3.40" rx="0.4" fill="#fdecd0"/>
<text transform="translate(606.25 444.19) scale(0.1)" font-size="25.0" font-weight="bold" textLength="162.0" lengthAdjust="spacingAndGlyphs" fill="#2e2a24">Content Marketing</text>
<rect x="552.30" y="456.50" width="18.90" height="3.30" rx="0.4" fill="#fde1e7"/>
<text transform="translate(553.05 459.02) scale(0.1)" font-size="25.0" font-weight="normal" textLength="174.0" lengthAdjust="spacingAndGlyphs" fill="#4a2a2a">Offline Label Services</text>
<rect x="575.00" y="446.80" width="28.50" height="3.10" rx="0.4" fill="#fde1e7"/>
<text transform="translate(575.75 449.17) scale(0.1)" font-size="25.0" font-weight="bold" textLength="270.0" lengthAdjust="spacingAndGlyphs" fill="#4a2a2a">Exclusive and Brand Registration</text>
<rect x="575.00" y="451.80" width="27.30" height="3.10" rx="0.4" fill="#fde1e7"/>
<text transform="translate(575.75 454.17) scale(0.1)" font-size="25.0" font-weight="bold" textLength="258.0" lengthAdjust="spacingAndGlyphs" fill="#4a2a2a">B2B Business Matching Service</text>
<rect x="575.00" y="456.50" width="9.20" height="3.00" rx="0.4" fill="#fde1e7"/>
<text transform="translate(575.74 458.79) scale(0.1)" font-size="22.5" font-weight="bold" textLength="77.3" lengthAdjust="spacingAndGlyphs" fill="#4a2a2a">Bulk Sales</text>
<rect x="575.00" y="461.30" width="32.20" height="3.10" rx="0.4" fill="#fde1e7"/>
<text transform="translate(575.75 463.67) scale(0.1)" font-size="25.0" font-weight="bold" textLength="307.0" lengthAdjust="spacingAndGlyphs" fill="#4a2a2a">Open Company Stores, Retail Stores</text>
<rect x="575.00" y="468.80" width="14.50" height="3.00" rx="0.4" fill="#fde1e7"/>
<text transform="translate(575.75 471.09) scale(0.1)" font-size="22.5" font-weight="normal" textLength="130.0" lengthAdjust="spacingAndGlyphs" fill="#4a2a2a">Online Services</text>
<rect x="593.50" y="466.50" width="26.90" height="3.00" rx="0.4" fill="#fde1e7"/>
<text transform="translate(594.25 468.79) scale(0.1)" font-size="22.5" font-weight="bold" textLength="254.0" lengthAdjust="spacingAndGlyphs" fill="#4a2a2a">Bulk Business Marketing Service</text>
<rect x="593.50" y="471.30" width="28.40" height="3.10" rx="0.4" fill="#fde1e7"/>
<text transform="translate(594.25 473.67) scale(0.1)" font-size="25.0" font-weight="bold" textLength="269.0" lengthAdjust="spacingAndGlyphs" fill="#4a2a2a">Offline Promotion, Buyer, Booths</text>
<rect x="552.30" y="480.80" width="14.10" height="3.10" rx="0.4" fill="#fdecd0"/>
<text transform="translate(553.05 483.17) scale(0.1)" font-size="25.0" font-weight="normal" textLength="126.0" lengthAdjust="spacingAndGlyphs" fill="#2e2a24">Logistic Services</text>
<rect x="570.00" y="475.90" width="14.60" height="3.10" rx="0.4" fill="#fdecd0"/>
<text transform="translate(570.75 478.27) scale(0.1)" font-size="25.0" font-weight="bold" textLength="131.0" lengthAdjust="spacingAndGlyphs" fill="#2e2a24">Import procedure</text>
<rect x="570.00" y="480.80" width="18.10" height="3.10" rx="0.4" fill="#fdecd0"/>
<text transform="translate(570.75 483.17) scale(0.1)" font-size="25.0" font-weight="bold" textLength="166.0" lengthAdjust="spacingAndGlyphs" fill="#2e2a24">Warehouse Services</text>
<rect x="570.00" y="485.50" width="34.60" height="5.30" rx="0.4" fill="#fdecd0"/>
<text transform="translate(570.75 487.70) scale(0.1)" font-size="23.0" font-weight="bold" textLength="331.0" lengthAdjust="spacingAndGlyphs" fill="#2e2a24">Hong Kong Internal Delivery Operation</text>
<text transform="translate(570.75 490.20) scale(0.1)" font-size="23.0" font-weight="bold" textLength="84.0" lengthAdjust="spacingAndGlyphs" fill="#2e2a24">Service</text>
<rect x="524.70" y="596.20" width="14.40" height="5.10" rx="0.4" fill="#8fdf95"/>
<text transform="translate(526.40 599.69) scale(0.1)" font-size="25.0" font-weight="normal" textLength="115.0" lengthAdjust="spacingAndGlyphs" fill="#1a2a1c">Online Market</text>
<rect x="543.00" y="563.00" width="23.00" height="3.70" rx="0.4" fill="#8fdf95"/>
<text transform="translate(543.75 565.79) scale(0.1)" font-size="25.0" font-weight="normal" textLength="215.0" lengthAdjust="spacingAndGlyphs" fill="#1a2a1c">Open Online Store Services</text>
<rect x="569.90" y="541.10" width="21.20" height="3.70" rx="0.4" fill="#8fdf95"/>
<path d="M588.75 542.55h1.2l-0.6 0.8z" fill="#1a2a1c"/>
<text transform="translate(570.65 543.89) scale(0.1)" font-size="25.0" font-weight="normal" textLength="167.0" lengthAdjust="spacingAndGlyphs" fill="#1a2a1c">Sales Original Store</text>
<rect x="594.70" y="541.10" width="23.20" height="3.70" rx="0.4" fill="#8fdf95"/>
<path d="M615.55 542.55h1.2l-0.6 0.8z" fill="#1a2a1c"/>
<text transform="translate(595.45 543.89) scale(0.1)" font-size="25.0" font-weight="normal" textLength="187.0" lengthAdjust="spacingAndGlyphs" fill="#1a2a1c">Product Sold Services</text>
<rect x="621.60" y="534.00" width="12.70" height="3.30" rx="0.4" fill="#8fdf95"/>
<text transform="translate(622.35 536.52) scale(0.1)" font-size="25.0" font-weight="bold" textLength="112.0" lengthAdjust="spacingAndGlyphs" fill="#1a2a1c">Art Craft Design</text>
<rect x="621.60" y="538.70" width="17.00" height="3.40" rx="0.4" fill="#8fdf95"/>
<text transform="translate(622.35 541.29) scale(0.1)" font-size="25.0" font-weight="bold" textLength="155.0" lengthAdjust="spacingAndGlyphs" fill="#1a2a1c">Classic Demo Store</text>
<rect x="621.60" y="543.60" width="11.20" height="3.40" rx="0.4" fill="#8fdf95"/>
<text transform="translate(622.35 546.19) scale(0.1)" font-size="25.0" font-weight="bold" textLength="97.0" lengthAdjust="spacingAndGlyphs" fill="#1a2a1c">Food Store</text>
<rect x="621.60" y="548.60" width="17.30" height="3.40" rx="0.4" fill="#8fdf95"/>
<text transform="translate(622.35 551.19) scale(0.1)" font-size="25.0" font-weight="bold" textLength="158.0" lengthAdjust="spacingAndGlyphs" fill="#1a2a1c">Greenhouse Store</text>
<rect x="570.00" y="563.00" width="23.10" height="3.70" rx="0.4" fill="#8fdf95"/>
<path d="M590.75 564.45h1.2l-0.6 0.8z" fill="#1a2a1c"/>
<text transform="translate(570.75 565.79) scale(0.1)" font-size="25.0" font-weight="normal" textLength="186.0" lengthAdjust="spacingAndGlyphs" fill="#1a2a1c">Product Sold Services</text>
<rect x="596.90" y="553.20" width="18.90" height="3.40" rx="0.4" fill="#8fdf95"/>
<text transform="translate(597.65 555.79) scale(0.1)" font-size="25.0" font-weight="bold" textLength="174.0" lengthAdjust="spacingAndGlyphs" fill="#1a2a1c">Product Virtual Media</text>
<rect x="596.90" y="558.20" width="12.70" height="3.50" rx="0.4" fill="#8fdf95"/>
<text transform="translate(597.65 560.87) scale(0.1)" font-size="25.0" font-weight="bold" textLength="112.0" lengthAdjust="spacingAndGlyphs" fill="#1a2a1c">Art Craft Model</text>
<rect x="596.90" y="563.00" width="16.90" height="3.60" rx="0.4" fill="#8fdf95"/>
<text transform="translate(597.65 565.74) scale(0.1)" font-size="25.0" font-weight="bold" textLength="154.0" lengthAdjust="spacingAndGlyphs" fill="#1a2a1c">Public (Pro Library)</text>
<rect x="596.90" y="568.20" width="10.90" height="3.30" rx="0.4" fill="#8fdf95"/>
<text transform="translate(597.65 570.72) scale(0.1)" font-size="25.0" font-weight="bold" textLength="94.0" lengthAdjust="spacingAndGlyphs" fill="#1a2a1c">Philanthropy</text>
<rect x="596.90" y="572.80" width="17.10" height="3.50" rx="0.4" fill="#8fdf95"/>
<text transform="translate(597.65 575.47) scale(0.1)" font-size="25.0" font-weight="bold" textLength="156.0" lengthAdjust="spacingAndGlyphs" fill="#1a2a1c">Greenhouse Store</text>
<rect x="570.00" y="582.50" width="23.10" height="3.50" rx="0.4" fill="#8fdf95"/>
<text transform="translate(570.75 585.17) scale(0.1)" font-size="25.0" font-weight="normal" textLength="216.0" lengthAdjust="spacingAndGlyphs" fill="#1a2a1c">Online Marketing Services</text>
<rect x="596.60" y="577.80" width="8.40" height="3.40" rx="0.4" fill="#8fdf95"/>
<text transform="translate(597.27 580.39) scale(0.1)" font-size="25.0" font-weight="bold" textLength="70.6" lengthAdjust="spacingAndGlyphs" fill="#1a2a1c">Branding</text>
<rect x="596.60" y="582.80" width="4.30" height="3.30" rx="0.4" fill="#8fdf95"/>
<text transform="translate(596.94 585.32) scale(0.1)" font-size="25.0" font-weight="bold" textLength="36.1" lengthAdjust="spacingAndGlyphs" fill="#1a2a1c">SEM</text>
<rect x="596.60" y="587.60" width="17.40" height="3.40" rx="0.4" fill="#8fdf95"/>
<text transform="translate(597.35 590.19) scale(0.1)" font-size="25.0" font-weight="bold" textLength="159.0" lengthAdjust="spacingAndGlyphs" fill="#1a2a1c">Content Marketing</text>
<rect x="542.90" y="602.00" width="14.40" height="3.60" rx="0.4" fill="#8fdf95"/>
<text transform="translate(543.65 604.74) scale(0.1)" font-size="25.0" font-weight="normal" textLength="129.0" lengthAdjust="spacingAndGlyphs" fill="#1a2a1c">Offline Services</text>
<rect x="561.10" y="592.10" width="28.80" height="3.70" rx="0.4" fill="#8fdf95"/>
<text transform="translate(561.85 594.89) scale(0.1)" font-size="25.0" font-weight="bold" textLength="273.0" lengthAdjust="spacingAndGlyphs" fill="#1a2a1c">Products, promotions Registration</text>
<rect x="561.10" y="597.10" width="27.40" height="3.60" rx="0.4" fill="#8fdf95"/>
<text transform="translate(561.85 599.84) scale(0.1)" font-size="25.0" font-weight="bold" textLength="259.0" lengthAdjust="spacingAndGlyphs" fill="#1a2a1c">Bulk Business Marketing Service</text>
<rect x="561.10" y="602.00" width="9.60" height="3.60" rx="0.4" fill="#8fdf95"/>
<text transform="translate(561.85 604.74) scale(0.1)" font-size="25.0" font-weight="bold" textLength="81.0" lengthAdjust="spacingAndGlyphs" fill="#1a2a1c">Bulk Sales</text>
<rect x="561.10" y="606.60" width="20.60" height="3.60" rx="0.4" fill="#8fdf95"/>
<text transform="translate(561.85 609.34) scale(0.1)" font-size="25.0" font-weight="bold" textLength="191.0" lengthAdjust="spacingAndGlyphs" fill="#1a2a1c">Open Company Stores</text>
<rect x="561.10" y="616.40" width="14.70" height="3.60" rx="0.4" fill="#8fdf95"/>
<text transform="translate(561.85 619.14) scale(0.1)" font-size="25.0" font-weight="normal" textLength="132.0" lengthAdjust="spacingAndGlyphs" fill="#1a2a1c">Online Services</text>
<rect x="579.20" y="611.80" width="27.60" height="3.00" rx="0.4" fill="#8fdf95"/>
<text transform="translate(579.95 614.09) scale(0.1)" font-size="22.5" font-weight="bold" textLength="261.0" lengthAdjust="spacingAndGlyphs" fill="#1a2a1c">B2B Business Matching Services</text>
<rect x="579.20" y="616.70" width="16.50" height="3.10" rx="0.4" fill="#8fdf95"/>
<text transform="translate(579.95 619.07) scale(0.1)" font-size="25.0" font-weight="bold" textLength="150.0" lengthAdjust="spacingAndGlyphs" fill="#1a2a1c">Offline Promotion</text>
<rect x="579.20" y="621.50" width="9.80" height="3.20" rx="0.4" fill="#8fdf95"/>
<text transform="translate(579.95 623.94) scale(0.1)" font-size="25.0" font-weight="bold" textLength="83.0" lengthAdjust="spacingAndGlyphs" fill="#1a2a1c">B2B Sales</text>
<rect x="542.90" y="631.00" width="14.30" height="3.70" rx="0.4" fill="#8fdf95"/>
<text transform="translate(543.65 633.79) scale(0.1)" font-size="25.0" font-weight="normal" textLength="128.0" lengthAdjust="spacingAndGlyphs" fill="#1a2a1c">Logistic Services</text>
<rect x="560.70" y="626.30" width="14.90" height="3.40" rx="0.4" fill="#8fdf95"/>
<text transform="translate(561.45 628.89) scale(0.1)" font-size="25.0" font-weight="bold" textLength="134.0" lengthAdjust="spacingAndGlyphs" fill="#1a2a1c">Import procedure</text>
<rect x="560.70" y="631.10" width="18.30" height="3.50" rx="0.4" fill="#8fdf95"/>
<text transform="translate(561.45 633.77) scale(0.1)" font-size="25.0" font-weight="bold" textLength="168.0" lengthAdjust="spacingAndGlyphs" fill="#1a2a1c">Warehouse Services</text>
<rect x="560.70" y="636.10" width="34.50" height="5.70" rx="0.4" fill="#8fdf95"/>
<text transform="translate(561.45 638.30) scale(0.1)" font-size="23.0" font-weight="bold" textLength="330.0" lengthAdjust="spacingAndGlyphs" fill="#1a2a1c">Hong Kong Internal Delivery Operation</text>
<text transform="translate(561.45 640.80) scale(0.1)" font-size="23.0" font-weight="bold" textLength="84.0" lengthAdjust="spacingAndGlyphs" fill="#1a2a1c">Service</text>
<rect x="363" y="104.1" width="20.00" height="5.00" fill="#ffe1e1"/>
<text transform="translate(364.20 107.50) scale(0.1)" font-size="25.0" font-weight="normal" textLength="168.0" lengthAdjust="spacingAndGlyphs" fill="#4a3a48">SERVICE PORT (HK)</text>
<rect x="416" y="104" width="13.30" height="5.10" fill="#fb8f8f"/>
<text transform="translate(417.90 107.45) scale(0.1)" font-size="25.0" font-weight="normal" textLength="99.0" lengthAdjust="spacingAndGlyphs" fill="#4a3a48">Online Brand</text>
<rect x="367.8" y="448" width="20.10" height="4.80" fill="#ffe1e1"/>
<text transform="translate(369.10 451.30) scale(0.1)" font-size="25.0" font-weight="normal" textLength="168.0" lengthAdjust="spacingAndGlyphs" fill="#4a3a48">SERVICE PORT (HK)</text>
<rect x="363.4" y="464.8" width="24.40" height="4.80" fill="#ffe1e1"/>
<text transform="translate(364.90 468.10) scale(0.1)" font-size="25.0" font-weight="normal" textLength="213.0" lengthAdjust="spacingAndGlyphs" fill="#4a3a48">Sales Cross-border Shop</text>
<rect x="404.9" y="447.6" width="21.30" height="5.20" fill="#fb8f8f"/>
<text transform="translate(410.20 451.10) scale(0.1)" font-size="25.0" font-weight="normal" textLength="107.0" lengthAdjust="spacingAndGlyphs" fill="#4a3a48">Online Brand</text>
<rect x="369.9" y="597" width="22.10" height="4.90" fill="#ffe1e1"/>
<text transform="translate(371.00 600.35) scale(0.1)" font-size="25.0" font-weight="normal" textLength="202.0" lengthAdjust="spacingAndGlyphs" fill="#4a3a48">SERVICE PORT SERVICE</text>
<rect x="405" y="597" width="13.10" height="4.90" fill="#fb8f8f"/>
<text transform="translate(406.50 600.35) scale(0.1)" font-size="25.0" font-weight="normal" textLength="103.0" lengthAdjust="spacingAndGlyphs" fill="#4a3a48">Online Brand</text>
</g>
</svg>
</body></html>
